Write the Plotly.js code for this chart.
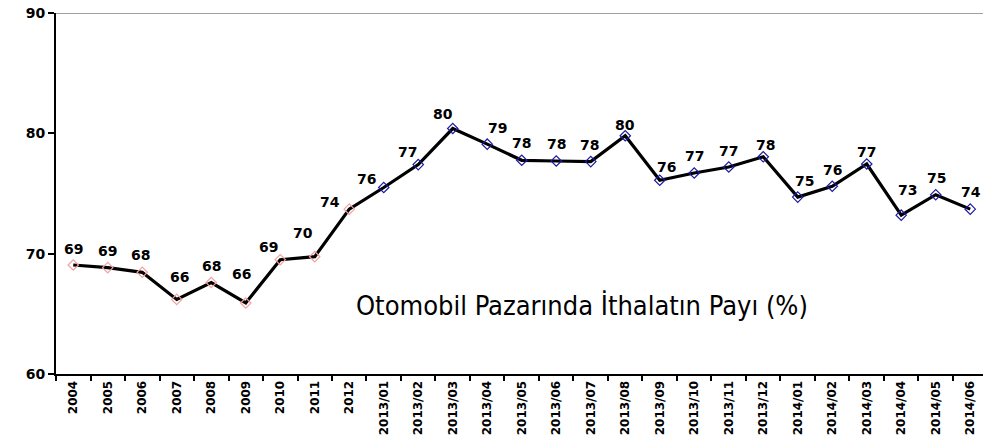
<!DOCTYPE html>
<html>
<head>
<meta charset="utf-8">
<script src="https://cdn.plot.ly/plotly-3.0.1.min.js"></script>
<style>html,body{margin:0;padding:0;background:#fff;}#chart{width:983px;height:440px;}</style>
</head>
<body>
<div id="chart"></div>
<script>
const categories = ["2004","2005","2006","2007","2008","2009","2010","2011","2012",
  "2013/01","2013/02","2013/03","2013/04","2013/05","2013/06","2013/07","2013/08","2013/09","2013/10","2013/11","2013/12",
  "2014/01","2014/02","2014/03","2014/04","2014/05","2014/06"];
const shares = [69.06,68.84,68.45,66.2,67.6,65.9,69.5,69.75,73.7,
  75.5,77.4,80.4,79.1,77.76,77.7,77.65,79.8,76.1,76.7,77.2,78.05,
  74.7,75.6,77.45,73.2,74.9,73.7];
const labels = ["69","69","68","66","68","66","69","70","74",
  "76","77","80","79","78","78","78","80","76","77","77","78",
  "75","76","77","73","75","74"];
const yTicks = [60,70,80,90];
const titleText = "Otomobil Pazarında İthalatın Payı (%)";

// label placement offsets (pixels, style only)
const labelDx = [0,0,-2,3,0,-4,-12,-12,-19,-17,-11,-10,10,0,0,-1,0,7,0,0,2,7,0,0,6,1,1];
const labelDy = [16,17,17,22,17,29,13,24,7,8,13,15,16,17,17,17,11,13,17,16,12,16,16,12,25,17,17];

const markerColors = categories.map((c,i) => i < 9 ? "#f4a0a0" : "#1a1aa0");

const trace = {
  x: categories, y: shares,
  type: "scatter", mode: "lines+markers",
  line: {color: "#000", width: 3.2},
  marker: {symbol: "diamond-open", size: 8, color: markerColors, line: {width: 1.2, color: markerColors}},
  cliponaxis: false,
  hoverinfo: "none"
};

// category index used for x so numeric-looking names are not misread
const labelAnnotations = categories.map((c,i) => ({
  x: i, y: shares[i], xref: "x", yref: "y", text: labels[i],
  showarrow: false, xanchor: "center", yanchor: "middle",
  xshift: labelDx[i], yshift: labelDy[i],
  font: {family: "DejaVu Sans", size: 14, color: "#000", weight: "bold"}
}));

const layout = {
  width: 983, height: 440,
  margin: {l: 56, r: 0, t: 13, b: 66},
  paper_bgcolor: "#fff", plot_bgcolor: "#fff",
  showlegend: false,
  xaxis: {
    type: "category", range: [-0.5, 26.37],
    tickangle: -90, tickson: "boundaries",
    ticks: "outside", ticklen: 5, tickwidth: 2, tickcolor: "#000",
    showline: true, linecolor: "#000", linewidth: 2,
    showgrid: false, zeroline: false,
    tickfont: {family: "DejaVu Sans", size: 12, color: "#000", weight: "bold"}
  },
  yaxis: {
    range: [60, 90], tickvals: yTicks,
    ticks: "outside", ticklen: 6, tickwidth: 2, tickcolor: "#000",
    showline: true, linecolor: "#000", linewidth: 2,
    showgrid: false, zeroline: false,
    tickfont: {family: "DejaVu Sans", size: 14, color: "#000", weight: "bold"}
  },
  shapes: [{type: "line", xref: "paper", yref: "y", x0: 0, x1: 1, y0: 90, y1: 90, line: {color: "#808080", width: 1.5}}],
  annotations: labelAnnotations.concat([{
    text: titleText, xref: "paper", yref: "y", x: 0.567, y: 65.7,
    showarrow: false, font: {family: "DejaVu Sans Condensed", size: 27, color: "#000"}
  }])
};

Plotly.newPlot("chart", [trace], layout, {displayModeBar: false, staticPlot: true});
</script>
</body>
</html>
